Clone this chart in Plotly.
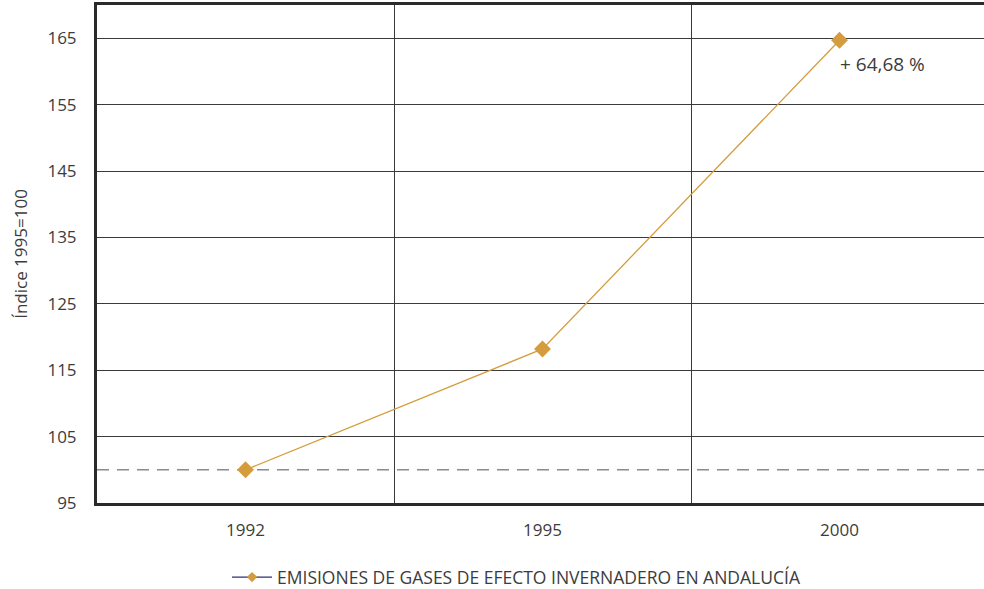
import plotly.graph_objects as go

# datos
years = ["1992", "1995", "2000"]
index_values = [100, 118.2, 164.68]
baseline = 100
y_ticks = [95, 105, 115, 125, 135, 145, 155, 165]
series_name = "EMISIONES DE GASES DE EFECTO INVERNADERO EN ANDALUCÍA"
change_label = "+ 64,68 %"

gold = "#D49C3D"
navy = "#2B2F7A"
grid = "#3a3a3a"
text_col = "#3c3c3c"
font = "Open Sans"

x_pos = list(range(len(years)))

fig = go.Figure()

fig.add_hline(y=baseline, line=dict(color="#8a8a8a", width=1.5, dash="12px,8px"),
              layer="below")

fig.add_trace(go.Scatter(
    x=x_pos, y=index_values, mode="lines+markers",
    line=dict(color=gold, width=1.3),
    marker=dict(symbol="diamond", size=13, color=gold),
    showlegend=False, hoverinfo="y",
))

# entrada de leyenda (línea azul, marcador dorado)
fig.add_trace(go.Scatter(
    x=[None], y=[None], mode="lines+markers", name=series_name,
    line=dict(color=navy, width=1.3),
    marker=dict(symbol="diamond", size=8, color=gold),
))

fig.add_annotation(
    x=x_pos[-1], y=index_values[-1], text=change_label, showarrow=False,
    xanchor="left", yanchor="middle", xshift=-2, yshift=-24,
    font=dict(family=font, size=19, color=text_col),
)

fig.update_layout(
    width=984, height=589,
    margin=dict(l=97, r=0, t=5, b=86, autoexpand=False),
    paper_bgcolor="white", plot_bgcolor="white",
    font=dict(family=font, size=17, color=text_col),
    xaxis=dict(
        range=[-0.5, 2.4865],
        tickvals=x_pos, ticktext=years,
        showgrid=False, zeroline=False,
        showline=True, linecolor="#2a2a2a", linewidth=3, mirror=True,
        ticks="", ticklabelstandoff=10,
        tickfont=dict(size=17),
        minor=dict(tickvals=[0.5, 1.5], showgrid=True, gridcolor=grid,
                   gridwidth=1, ticks=""),
    ),
    yaxis=dict(
        range=[95, 170],
        tickvals=y_ticks,
        showgrid=True, gridcolor=grid, gridwidth=1,
        zeroline=False,
        showline=True, linecolor="#2a2a2a", linewidth=3,
        ticks="", ticklabelstandoff=14,
        tickfont=dict(size=17),
        title=dict(text="Índice 1995=100", font=dict(size=17), standoff=16),
    ),
    legend=dict(
        orientation="h", x=0.1466, xanchor="left", y=-0.149, yanchor="middle",
        font=dict(size=17.5, color=text_col), itemwidth=40,
        bgcolor="rgba(0,0,0,0)",
    ),
)

fig.write_html(
    "out.html", config={"displayModeBar": False},
    post_script=("document.body.style.margin='0';"
                 "document.body.style.overflow='hidden';"
                 "document.documentElement.style.overflow='hidden';"),
)
